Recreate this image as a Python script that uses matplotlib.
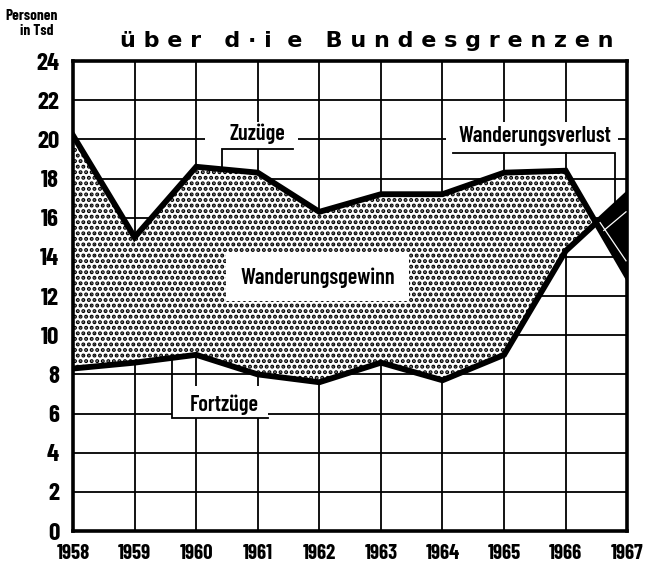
import matplotlib
matplotlib.use("Agg")
import matplotlib.pyplot as plt
from matplotlib.patches import Rectangle
import numpy as np

# Wanderungen ueber die Bundesgrenzen, Personen in Tsd
jahre = [1958, 1959, 1960, 1961, 1962, 1963, 1964, 1965, 1966, 1967]
zuzuege = [20.2, 15.0, 18.6, 18.3, 16.3, 17.2, 17.2, 18.3, 18.4, 13.0]
fortzuege = [8.3, 8.6, 9.0, 8.0, 7.6, 8.6, 7.7, 9.0, 14.3, 17.2]
y_ticks = list(range(0, 25, 2))

COND = ["Barlow Condensed", "DejaVu Sans"]

plt.rcParams["hatch.linewidth"] = 2.0

fig = plt.figure(figsize=(6.52, 5.65), dpi=100)
ax = fig.add_axes([0.112, 0.060, 0.850, 0.832])

x = np.array(jahre, dtype=float)
zu = np.array(zuzuege)
fo = np.array(fortzuege)

# fine x grid so the crossing between 1966 and 1967 is filled exactly
xf = np.linspace(x[0], x[-1], 2000)
zf = np.interp(xf, x, zu)
ff = np.interp(xf, x, fo)

# Wanderungsgewinn: dotted area
ax.fill_between(xf, ff, zf, where=zf >= ff, facecolor="white",
                edgecolor="black", hatch="...", linewidth=0, zorder=2)
# Wanderungsverlust: solid black
ax.fill_between(xf, zf, ff, where=ff >= zf, facecolor="black",
                linewidth=0, zorder=2)

ax.plot(x, zu, color="black", lw=4.2, solid_joinstyle="miter", zorder=4)
ax.plot(x, fo, color="black", lw=4.2, solid_joinstyle="miter", zorder=4)

# thin white lines inside the black loss wedge
ax.plot([1966.56, 1966.98], [15.75, 13.8], color="white", lw=0.9, zorder=5)
ax.plot([1966.62, 1966.98], [15.35, 16.3], color="white", lw=0.9, zorder=5)

ax.set_xlim(jahre[0], jahre[-1])
ax.set_ylim(0, 24)
ax.set_xticks(jahre)
ax.set_yticks(y_ticks)
ax.set_xticklabels([str(j) for j in jahre], fontsize=15, family=COND,
                   fontweight=700)
ax.set_yticklabels([str(t) for t in y_ticks], fontsize=18, family=COND,
                   fontweight=700)
ax.tick_params(length=0)
ax.tick_params(axis="x", pad=9)
ax.tick_params(axis="y", pad=10)
ax.grid(True, color="black", lw=1.3, zorder=1)
ax.set_axisbelow(True)
for s in ax.spines.values():
    s.set_linewidth(2.6)


def white_box(x0, y0, x1, y1):
    ax.add_patch(Rectangle((x0, y0), x1 - x0, y1 - y0, facecolor="white",
                           edgecolor="none", zorder=1.5))


def leader(xs, ys):
    ax.plot(xs, ys, color="black", lw=1.3, solid_joinstyle="miter",
            zorder=5)


lab = dict(ha="center", va="center", fontsize=16, family=COND,
           fontweight=600, zorder=6)

# Zuzuege
white_box(1960.15, 19.5, 1961.65, 20.9)
ax.text(1961.0, 20.3, "Zuzüge", **lab)
leader([1960.42, 1960.42, 1961.58], [18.55, 19.5, 19.5])

# Wanderungsverlust
white_box(1964.05, 19.35, 1966.85, 20.9)
ax.text(1965.5, 20.15, "Wanderungsverlust", **lab)
leader([1964.17, 1966.8, 1966.8], [19.3, 19.3, 16.6])

# Wanderungsgewinn
ax.text(1961.97, 12.95, "Wanderungsgewinn",
        bbox=dict(facecolor="white", edgecolor="none", pad=10), **lab)

# Fortzuege
white_box(1959.61, 5.77, 1961.17, 7.4)
ax.text(1960.45, 6.45, "Fortzüge", **lab)
leader([1959.61, 1959.61, 1961.17], [8.75, 5.77, 5.77])

fig.text(0.184, 0.928, "ü b e r   d · i  e   B u n d e s g r e n z e n",
         ha="left", va="center", fontsize=16, fontweight="bold",
         family=["DejaVu Sans"])
fig.text(0.048, 0.972, "Personen", ha="center", va="center",
         fontsize=11, family=COND, fontweight=700)
fig.text(0.057, 0.945, "in Tsd", ha="center", va="center",
         fontsize=11, family=COND, fontweight=700)

fig.savefig("out.png", dpi=100)
